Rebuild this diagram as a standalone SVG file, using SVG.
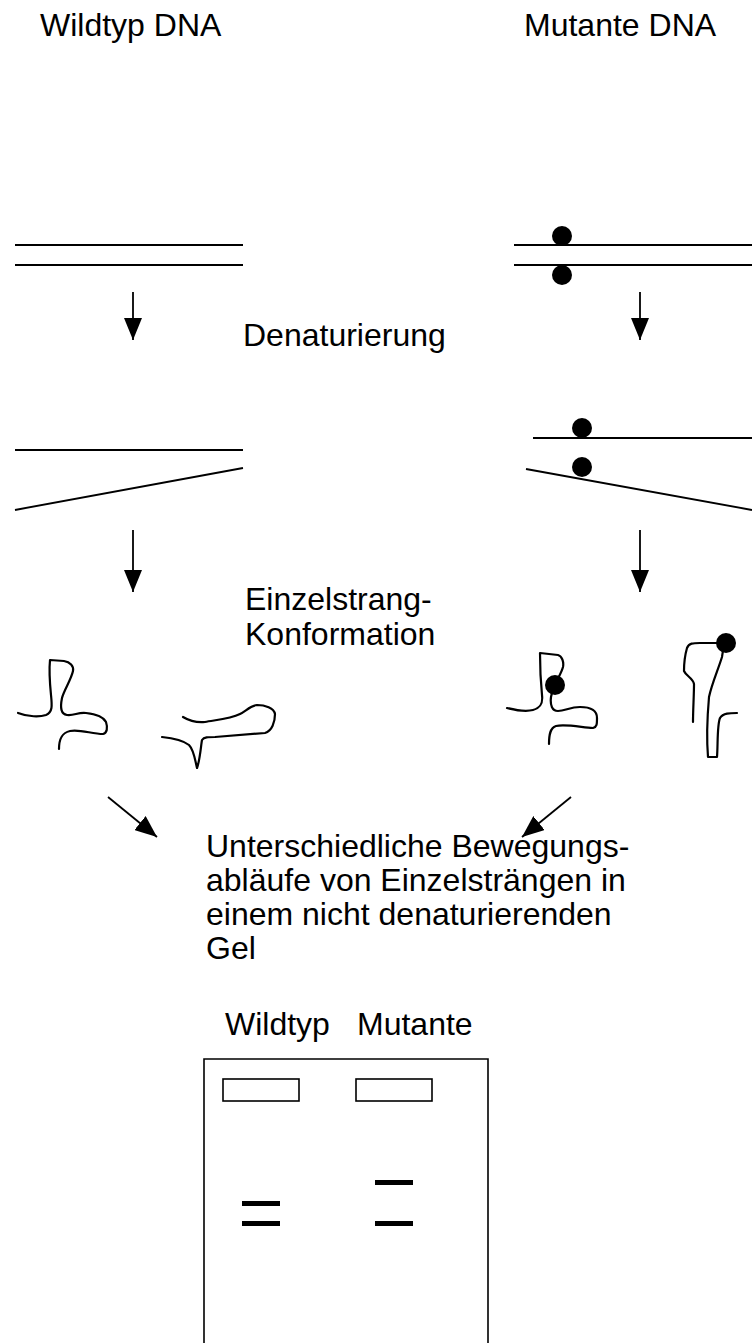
<svg xmlns="http://www.w3.org/2000/svg" width="752" height="1343" viewBox="0 0 752 1343">
  <defs>
    <style>
      .lbl { font-family: "Liberation Sans", Arial, sans-serif; font-size: 32px; fill: #000; }
      .strand { fill: none; stroke: #000; stroke-width: 1.8; }
      .coil { fill: none; stroke: #000; stroke-width: 2.2; stroke-linejoin: round; stroke-linecap: round; }
      .arrow { fill: none; stroke: #000; stroke-width: 1.8; marker-end: url(#head); }
      .dot { fill: #000; }
      .gel { fill: none; stroke: #000; stroke-width: 1.6; }
      .band { fill: #000; }
    </style>
    <marker id="head" markerUnits="userSpaceOnUse" markerWidth="22" markerHeight="18" refX="22" refY="9" orient="auto">
      <path d="M0,0 L22,9 L0,18 z" fill="#000"/>
    </marker>
  </defs>

  <rect width="752" height="1343" fill="#fff"/>

  <!-- column headings -->
  <g id="title-wildtype"><text class="lbl" x="40" y="36">Wildtyp DNA</text></g>
  <g id="title-mutant"><text class="lbl" x="524" y="36">Mutante DNA</text></g>

  <!-- double strands -->
  <g id="wt-double">
    <line class="strand" x1="15" y1="245" x2="243" y2="245"/>
    <line class="strand" x1="15" y1="265" x2="243" y2="265"/>
  </g>
  <g id="mut-double">
    <line class="strand" x1="514" y1="245" x2="752" y2="245"/>
    <line class="strand" x1="514" y1="265" x2="752" y2="265"/>
    <circle class="dot" cx="562" cy="236" r="10"/>
    <circle class="dot" cx="562" cy="275" r="10"/>
  </g>

  <g id="step-denature"><text class="lbl" x="243" y="346">Denaturierung</text></g>

  <!-- separated strands -->
  <g id="wt-separated">
    <line class="strand" x1="15" y1="450" x2="243" y2="450"/>
    <line class="strand" x1="15" y1="510" x2="243" y2="468"/>
  </g>
  <g id="mut-separated">
    <line class="strand" x1="533" y1="438" x2="752" y2="438"/>
    <line class="strand" x1="526" y1="469" x2="752" y2="510"/>
    <circle class="dot" cx="582" cy="428" r="10"/>
    <circle class="dot" cx="582" cy="467" r="10"/>
  </g>

  <g id="step-conformation">
    <text class="lbl" x="245" y="610">Einzelstrang-</text>
    <text class="lbl" x="245" y="645">Konformation</text>
  </g>

  <!-- folded single strands -->
  <g id="wt-fold-a">
    <path class="coil" d="M18,713 C28,717 40,717 46,715 C53,712 52,705 51,695 C50,685 49,670 50,660 L64,661 C70,662 74,666 73,671 C71,680 64,690 62,698 C60,708 61,714 67,715 C74,716 78,712 86,713 C95,714 103,716 106,722 C108,728 107,733 103,734 C92,734 80,729 70,731 C61,733 59,740 59,749"/>
  </g>
  <g id="wt-fold-b">
    <path class="coil" d="M162,737 C172,738 184,741 189,745 C194,750 195,760 197,768 C200,760 201,745 202,740 C204,737 208,737 215,737 L265,733 C272,731 275,722 275,714 C274,708 265,705 257,705 C250,706 246,711 240,714 C230,719 215,720 205,722 C195,723 188,720 183,717"/>
  </g>
  <g id="mut-fold-a">
    <path class="coil" d="M507,708 C515,710 525,712 533,710 C541,708 543,703 542,695 C541,685 540,665 540,653 L558,655 C562,656 564,662 563,667 C561,675 553,685 551,697 C550,705 552,711 558,711 C565,711 570,707 580,707 C590,707 597,710 597,718 C597,724 597,727 593,728 C580,727 565,724 556,726 C550,728 549,735 549,744"/>
    <circle class="dot" cx="555" cy="685" r="10"/>
  </g>
  <g id="mut-fold-b">
    <path class="coil" d="M693,722 C693,710 694,695 694,684 C693,678 686,676 684,671 C684,664 685,655 687,648 C689,643 693,643 700,643 L720,643 C724,645 723,652 722,657 C718,670 712,683 709,697 C707,720 707,745 708,757 L717,757 C718,745 717,725 720,718 C723,713 730,713 737,713"/>
    <circle class="dot" cx="726" cy="643" r="10"/>
  </g>

  <g id="step-gel-text">
    <text class="lbl" x="206" y="857">Unterschiedliche Bewegungs-</text>
    <text class="lbl" x="206" y="891">abläufe von Einzelsträngen in</text>
    <text class="lbl" x="206" y="925">einem nicht denaturierenden</text>
    <text class="lbl" x="206" y="959">Gel</text>
  </g>

  <!-- gel -->
  <g id="gel">
    <text class="lbl" x="225" y="1035">Wildtyp</text>
    <text class="lbl" x="357" y="1035">Mutante</text>
    <path class="gel" d="M204,1350 L204,1059 L488,1059 L488,1350"/>
    <rect class="gel" x="223" y="1079" width="76" height="22"/>
    <rect class="gel" x="356" y="1079" width="76" height="22"/>
    <rect class="band" x="242" y="1201" width="38" height="5"/>
    <rect class="band" x="242" y="1221" width="38" height="5"/>
    <rect class="band" x="375" y="1180" width="38" height="5"/>
    <rect class="band" x="375" y="1221" width="38" height="5"/>
  </g>

  <!-- connectors -->
  <g id="connectors">
    <line class="arrow" x1="133" y1="292" x2="133" y2="340"/>
    <line class="arrow" x1="640" y1="292" x2="640" y2="340"/>
    <line class="arrow" x1="133" y1="530" x2="133" y2="592"/>
    <line class="arrow" x1="640" y1="530" x2="640" y2="592"/>
    <line class="arrow" x1="108" y1="797" x2="157" y2="837"/>
    <line class="arrow" x1="571" y1="797" x2="522" y2="837"/>
  </g>
</svg>
